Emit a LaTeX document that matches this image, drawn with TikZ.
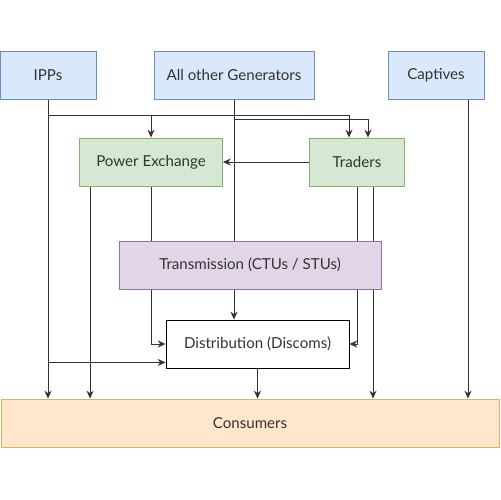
\documentclass[tikz,border=0pt]{standalone}
\usepackage{fontspec}
\setmainfont{Lato}
\usetikzlibrary{arrows.meta,positioning}
\pgfdeclarelayer{bg}
\pgfsetlayers{bg,main}
\definecolor{gfill}{HTML}{DAE8FC}\definecolor{gline}{HTML}{6C8EBF}
\definecolor{mfill}{HTML}{D5E8D4}\definecolor{mline}{HTML}{82B366}
\definecolor{tfill}{HTML}{E1D5E7}\definecolor{tline}{HTML}{9673A6}
\definecolor{cfill}{HTML}{FFE6CC}\definecolor{cline}{HTML}{D6B656}
\definecolor{ink}{HTML}{333333}
\tikzset{
  box/.style={draw, rectangle, minimum height=0.96cm, inner sep=0pt, text=ink, font=\fontsize{8.6}{10}\selectfont, line width=0.5pt},
  gen/.style={box, fill=gfill, draw=gline},
  market/.style={box, fill=mfill, draw=mline},
  grid/.style={box, fill=tfill, draw=tline},
  arr/.style={draw=ink, line width=0.55pt, -{Stealth[length=4.5pt,width=4pt]}}
}

\begin{document}
\begin{tikzpicture}[x=0.02cm, y=-0.02cm]
\useasboundingbox (0,0) rectangle (500,500);

\node[gen, minimum width=1.92cm] (ipp) at (48,75) {IPPs};
\node[gen, minimum width=3.2cm] (gen) at (234,75) {All other Generators};
\node[gen, minimum width=1.92cm] (cap) at (436,75) {Captives};

\node[market, minimum width=2.86cm] (pe) at (151,162) {Power Exchange};
\node[market, minimum width=1.9cm] (tr) at (357,162) {Traders};

\node[grid, minimum width=5.24cm] (trans) at (250,265) {Transmission (CTUs / STUs)};
\node[box, fill=white, draw=black, minimum width=3.66cm] (dis) at (257.5,344) {Distribution (Discoms)};
\node[box, fill=cfill, draw=cline, minimum width=9.96cm] (cons) at (250,423) {Consumers};

\coordinate (busA) at (0,115);
\coordinate (busB) at (0,119);

\begin{pgfonlayer}{bg}
% from the generators
\draw[arr] (ipp.south) -- (ipp.south |- busA) -| (pe.north);
\draw[arr] (ipp.south |- busA) -| ([xshift=-0.16cm]tr.north);
\draw[arr] (gen.south) -- (gen.south |- busB) -| ([xshift=0.22cm]tr.north);
\draw[arr] (ipp.south) -- (ipp.south |- cons.north);
\path ([yshift=0.12cm]dis.south west) coordinate (disIn);
\draw[arr] (ipp.south |- disIn) -- (disIn);
\draw[arr] (gen.south) -- (gen.south |- dis.north);
\path ([xshift=0.64cm]cap.south) coordinate (capOut);
\draw[arr] (capOut) -- (capOut |- cons.north);

% from the markets
\draw[arr] (tr.west) -- (pe.east);
\path ([xshift=0.22cm]pe.south west) coordinate (peOut);
\draw[arr] (peOut) -- (peOut |- cons.north);
\draw[arr] (pe.south) -- (pe.south |- dis.west) -- (dis.west);
\draw[arr] (tr.south) -- (tr.south |- dis.east) -- (dis.east);
\path ([xshift=0.32cm]tr.south) coordinate (trOut);
\draw[arr] (trOut) -- (trOut |- cons.north);

% to the consumers
\draw[arr] (dis.south) -- (dis.south |- cons.north);
\end{pgfonlayer}
\end{tikzpicture}
\end{document}
